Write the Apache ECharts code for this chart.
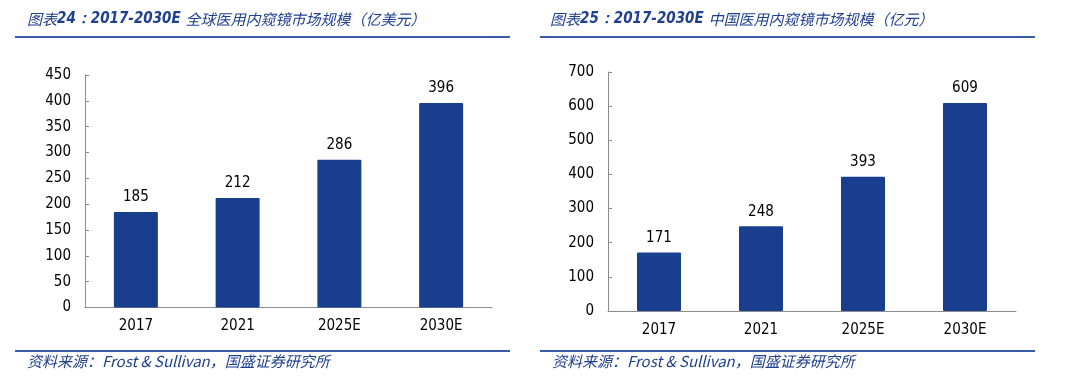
<!DOCTYPE html>
<html>
<head>
<meta charset="utf-8">
<script src="https://cdn.jsdelivr.net/npm/echarts@6/dist/echarts.min.js"></script>
<style>
html,body{margin:0;padding:0;background:#fff;}
#c{width:1080px;height:385px;}
</style>
</head>
<body>
<div id="c"></div>
<script>
// ---- data ----
const categories = ['2017', '2021', '2025E', '2030E'];
const globalValues = [185, 212, 286, 396];     // 亿美元
const chinaValues = [171, 248, 393, 609];      // 亿元
const titleHead = '图表';
const leftTitleNum = '24：2017-2030E ';
const leftTitleRest = '全球医用内窥镜市场规模（亿美元）';
const rightTitleNum = '25：2017-2030E ';
const rightTitleRest = '中国医用内窥镜市场规模（亿元）';
const sourceText = '资料来源：Frost & Sullivan，国盛证券研究所';

const NUM_FONT = "'DejaVu Sans Condensed', 'DejaVu Sans', sans-serif";
const CJK_FONT = "'Noto Sans CJK SC', 'DejaVu Sans', sans-serif";
const BLUE_TEXT = '#1f3f8f';
const BLUE_LINE = '#3a5ca8';
const BAR = '#1a3e8e';
const AXIS = '#8c8c8c';

function titleCfg(num, rest, left, top) {
  return {
    text: '{b|' + titleHead + '}{a|' + num + '}{b|' + rest + '}',
    left: left, top: top,
    padding: 0,
    textStyle: {
      fontWeight: 'normal',
      rich: {
        a: {fontFamily: NUM_FONT, fontStyle: 'italic', fontWeight: 'bold', fontSize: 15, color: BLUE_TEXT},
        b: {fontFamily: CJK_FONT, fontStyle: 'italic', fontWeight: 'normal', fontSize: 15, color: BLUE_TEXT}
      }
    }
  };
}
function footCfg(left, top) {
  return {
    text: sourceText,
    left: left, top: top, padding: 0,
    textStyle: {fontFamily: CJK_FONT, fontStyle: 'italic', fontWeight: 'normal', fontSize: 15, color: BLUE_TEXT}
  };
}
function xAxisCfg(gi, margin) {
  return {
    type: 'category', gridIndex: gi, data: categories,
    axisLine: {lineStyle: {color: AXIS, width: 1}},
    axisTick: {inside: true, length: 4, lineStyle: {color: AXIS}},
    axisLabel: {color: '#000', fontSize: 15, fontFamily: NUM_FONT, margin: margin}
  };
}
function yAxisCfg(gi, max, interval) {
  return {
    type: 'value', gridIndex: gi, min: 0, max: max, interval: interval,
    axisLine: {show: true, lineStyle: {color: AXIS, width: 1}},
    axisTick: {show: true, inside: true, length: 4, lineStyle: {color: AXIS}},
    splitLine: {show: false},
    axisLabel: {color: '#000', fontSize: 15, fontFamily: NUM_FONT, margin: 14}
  };
}
function barSeries(idx, data) {
  return {
    type: 'bar', xAxisIndex: idx, yAxisIndex: idx, data: data,
    barWidth: 44,
    itemStyle: {color: BAR, borderRadius: 1},
    label: {show: true, position: 'top', distance: 7, color: '#000', fontSize: 15, fontFamily: NUM_FONT},
    z: 1
  };
}

const chart = echarts.init(document.getElementById('c'), null, {renderer: 'canvas'});
chart.setOption({
  animation: false,
  backgroundColor: '#fff',
  title: [
    titleCfg(leftTitleNum, leftTitleRest, 27, 12),
    titleCfg(rightTitleNum, rightTitleRest, 550, 12),
    footCfg(27, 354),
    footCfg(552, 354)
  ],
  grid: [
    {left: 85, right: 588, top: 75, bottom: 77.5},
    {left: 608, right: 64, top: 72, bottom: 74}
  ],
  xAxis: [xAxisCfg(0, 11), xAxisCfg(1, 12)],
  yAxis: [yAxisCfg(0, 450, 50), yAxisCfg(1, 700, 100)],
  series: [barSeries(0, globalValues), barSeries(1, chinaValues)],
  graphic: [
    {type: 'line', shape: {x1: 15, y1: 37, x2: 510, y2: 37}, style: {stroke: BLUE_LINE, lineWidth: 2}},
    {type: 'line', shape: {x1: 540, y1: 37, x2: 1035, y2: 37}, style: {stroke: BLUE_LINE, lineWidth: 2}},
    {type: 'line', shape: {x1: 15, y1: 351, x2: 510, y2: 351}, style: {stroke: BLUE_LINE, lineWidth: 2}},
    {type: 'line', shape: {x1: 540, y1: 351, x2: 1035, y2: 351}, style: {stroke: BLUE_LINE, lineWidth: 2}}
  ]
});
</script>
</body>
</html>
